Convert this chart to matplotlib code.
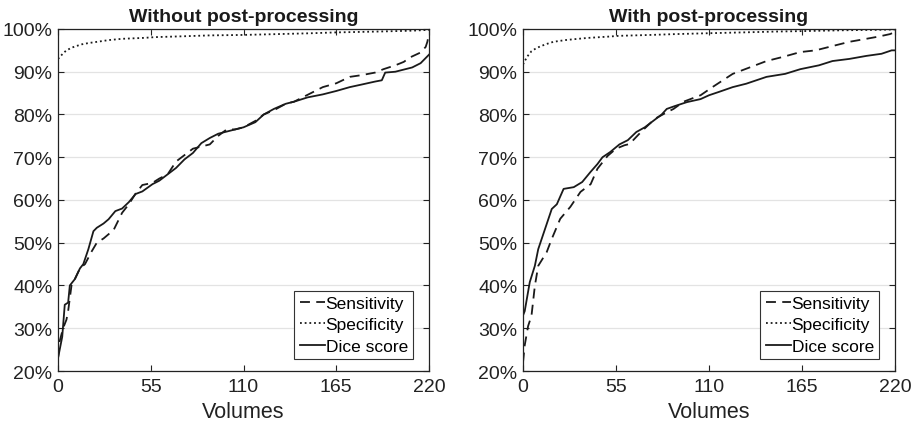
import numpy as np
import matplotlib.pyplot as plt
from matplotlib.ticker import FuncFormatter

plt.rcParams['font.family'] = ['Liberation Sans', 'DejaVu Sans']

#__ Without post-processing ______________________________
wo_dice_x = [0, 1, 2.5, 4, 6, 7, 10, 13, 15, 18, 21, 23, 27, 30, 34, 38, 42, 46, 50, 56, 60, 65, 70, 75,
             80, 85, 90, 95, 100, 105, 110, 117, 122, 128, 135, 140, 148, 157, 165, 173, 180, 188, 192,
             194, 200, 205, 210, 215, 220]
wo_dice_y = [23, 25, 28, 35.5, 36, 40, 41.5, 44, 45, 48.5, 52.7, 53.5, 54.5, 55.5, 57.4, 58, 59.5, 61.4,
             62, 63.7, 64.5, 66, 67.5, 69.5, 71, 73.3, 74.5, 75.5, 76, 76.5, 77, 78.2, 80, 81.3, 82.5, 83,
             84, 84.7, 85.5, 86.4, 87, 87.7, 88, 89.8, 90, 90.5, 91, 92, 94]

wo_sens_x = [0, 1, 3, 4, 5, 6, 8, 10, 13, 16, 20, 23, 27, 33, 38, 42, 46, 50, 56, 60, 65, 70, 75, 80,
             85, 90, 95, 100, 105, 110, 117, 122, 128, 135, 140, 145, 150, 157, 165, 173, 180, 188, 193,
             200, 205, 209, 215, 218, 219, 220]
wo_sens_y = [23, 27, 30, 31, 32, 34, 40, 41.5, 44, 45, 48, 50, 51, 53, 57, 59, 61.5, 63.5, 64, 65, 66,
             69, 70.5, 72, 72.5, 73, 75, 76.5, 76.5, 77, 78.5, 80, 81, 82.5, 83, 84, 85, 86.4, 87.3, 88.8,
             89.2, 89.8, 90.6, 91.5, 92.3, 93.4, 94.5, 95.8, 97, 99]

wo_spec_x = [0, 1, 3, 5, 8, 10, 14, 18, 25, 30, 38, 50, 58, 75, 90, 109, 130, 150, 165, 190, 210, 220]
wo_spec_y = [93, 93.4, 94.3, 95, 95.6, 95.9, 96.4, 96.7, 97.1, 97.4, 97.7, 97.9, 98.1, 98.3, 98.5,
             98.6, 98.8, 99, 99.2, 99.4, 99.6, 99.8]

#__ With post-processing ______________________________
w_dice_x = [0, 1, 4, 7, 9, 13, 17, 20, 24, 30, 35, 40, 44, 47, 51.5, 57, 62, 67, 72, 77, 82, 85, 90,
            97, 105, 110, 116, 124, 132, 144, 155, 164, 175, 183, 193, 203, 212, 218, 220]
w_dice_y = [33, 34, 40.8, 44.6, 48.5, 53.2, 57.9, 59, 62.6, 63, 64.2, 66.6, 68.4, 70, 71.2, 73, 74,
            75.9, 77, 78.5, 80, 81.3, 82, 82.9, 83.6, 84.5, 85.3, 86.4, 87.2, 88.8, 89.5, 90.6, 91.5,
            92.5, 93, 93.7, 94.2, 95, 95]

w_sens_x = [0, 1, 3, 5, 7, 9, 14, 17, 22, 28, 34, 40, 44, 50, 55, 60, 63, 70, 78, 85, 89, 95, 105,
            112, 124, 134, 144, 154, 164, 173, 183, 193, 203, 210, 217, 220]
w_sens_y = [22, 26, 30.5, 32.9, 39.9, 44.6, 47.8, 50.9, 55.6, 58.4, 61.9, 63.7, 67.3, 70.3, 72, 72.8,
            73.1, 76, 79, 80.5, 81.3, 83, 84.5, 86.4, 89.5, 91, 92.5, 93.5, 94.6, 95, 96, 97, 97.7,
            98.2, 98.8, 99.3]

w_spec_x = [0, 1, 3, 5, 7, 10, 14, 18, 25, 30, 38, 50, 57, 75, 90, 109, 130, 150, 165, 190, 210, 220]
w_spec_y = [91.7, 92.5, 93.8, 94.8, 95.3, 95.9, 96.5, 97, 97.4, 97.6, 97.9, 98.2, 98.4, 98.6, 98.8,
            99, 99.2, 99.4, 99.5, 99.7, 99.8, 99.9]

titles = ["Without post-processing", "With post-processing"]
x_ticks = [0, 55, 110, 165, 220]
y_ticks = np.arange(20, 101, 10)

panels = [
    (wo_sens_x, wo_sens_y, wo_spec_x, wo_spec_y, wo_dice_x, wo_dice_y),
    (w_sens_x, w_sens_y, w_spec_x, w_spec_y, w_dice_x, w_dice_y),
]

fig = plt.figure(figsize=(9.15, 4.27), dpi=100)
positions = [[0.0634, 0.1288, 0.4055, 0.801], [0.5716, 0.1288, 0.4066, 0.801]]

for pos, title, (sx, sy, px, py, dx, dy) in zip(positions, titles, panels):
    ax = fig.add_axes(pos)
    ax.plot(sx, sy, color='#1a1a1a', lw=1.3, ls=(0, (5.5, 3.5)), label='Sensitivity')
    ax.plot(px, py, color='#1a1a1a', lw=1.3, ls=(0, (1, 1.6)), label='Specificity')
    ax.plot(dx, dy, color='#1a1a1a', lw=1.3, ls='-', label='Dice score')
    ax.set_xlim(0, 220)
    ax.set_ylim(20, 100)
    ax.set_xticks(x_ticks)
    ax.set_yticks(y_ticks)
    ax.yaxis.set_major_formatter(FuncFormatter(lambda v, p: f"{v:.0f}%"))
    ax.grid(axis='y', color='#e3e3e3', lw=0.9)
    ax.set_axisbelow(True)
    ax.tick_params(direction='in', top=True, right=True, length=4, width=0.8,
                   labelsize=14, colors='#222222')
    ax.tick_params(axis='x', pad=5)
    ax.tick_params(axis='y', pad=4)
    for s in ax.spines.values():
        s.set_color('#222222')
        s.set_linewidth(0.9)
    ax.set_title(title, fontsize=14, fontweight='bold', pad=6, color='#1a1a1a')
    ax.set_xlabel("Volumes", fontsize=15.5, labelpad=4, color='#222222')
    leg = ax.legend(loc='lower right', bbox_to_anchor=(0.957, 0.035), fontsize=12.5,
                    handlelength=1.45, handletextpad=0.05, borderpad=0.3, labelspacing=0.36,
                    fancybox=False, framealpha=1, edgecolor='#333333', borderaxespad=0)
    leg.get_frame().set_linewidth(0.8)

fig.savefig("out.png", dpi=100)
